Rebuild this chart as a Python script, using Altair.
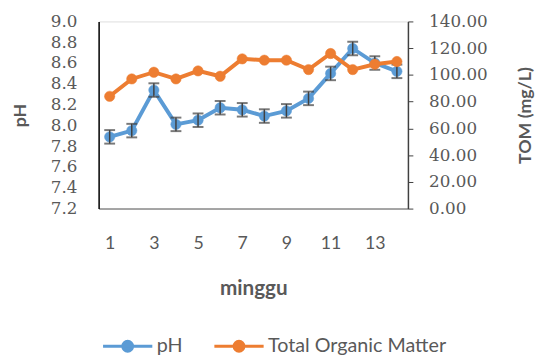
import altair as alt
import pandas as pd

weeks = list(range(1, 15))
ph = [7.89, 7.95, 8.34, 8.01, 8.05, 8.17, 8.15, 8.09, 8.14, 8.26, 8.50, 8.74, 8.60, 8.52]
ph_err = [0.065] * 14
tom = [84, 97, 102, 97, 103, 99, 112, 111, 111, 104, 116, 104, 108, 110]
x_ticks = [1, 3, 5, 7, 9, 11, 13]
ph_ticks = [7.2, 7.4, 7.6, 7.8, 8.0, 8.2, 8.4, 8.6, 8.8, 9.0]
tom_ticks = [0, 20, 40, 60, 80, 100, 120, 140]
series = ["pH", "Total Organic Matter"]
colors = ["#5B9BD5", "#ED7D31"]

df_ph = pd.DataFrame({
    "minggu": weeks, "value": ph,
    "lo": [v - e for v, e in zip(ph, ph_err)],
    "hi": [v + e for v, e in zip(ph, ph_err)],
    "series": "pH",
})
df_tom = pd.DataFrame({"minggu": weeks, "value": tom, "series": "Total Organic Matter"})

label_color = "#595959"
sans = "Lato"
serif = "DejaVu Serif"

x_enc = alt.X("minggu:Q", scale=alt.Scale(domain=[0.5, 14.5], nice=False, zero=False),
              axis=alt.Axis(values=x_ticks, ticks=False, tickSize=0, grid=False,
                            domainColor="#8c8c8c", domainWidth=1.5,
                            labelFont=sans, labelFontSize=18, labelColor=label_color,
                            labelPadding=27,
                            title="minggu", titleFont=sans, titleFontSize=21,
                            titleColor=label_color, titleFontWeight="bold",
                            titlePadding=25))

legend_symbol = "M-1,0H1M0.2,0A0.2,0.2,0,1,1,-0.2,0A0.2,0.2,0,1,1,0.2,0Z"
legend = alt.Legend(orient="none", direction="horizontal", title=None,
                    legendX=3, legendY=303,
                    symbolType=legend_symbol, symbolSize=2500, symbolStrokeWidth=3,
                    labelFont=sans, labelFontSize=20, labelColor=label_color,
                    labelOffset=3, columnPadding=25, labelLimit=400)
color_enc = alt.Color("series:N", scale=alt.Scale(domain=series, range=colors), legend=legend)
stroke_enc = alt.Stroke("series:N", scale=alt.Scale(domain=series, range=colors), legend=legend)

y_ph_scale = alt.Scale(domain=[7.2, 9.0], nice=False, zero=False)
y_ph_axis = alt.Axis(orient="left", values=ph_ticks, format=".1f", labelOverlap=False,
                     domain=True, domainOpacity=1, ticks=True, tickSize=0, tickOpacity=0,
                     grid=False, domainColor="#000000", domainWidth=1.5, zindex=1,
                     labelFont=serif, labelFontSize=17, labelColor=label_color, labelPadding=22,
                     title="pH", titleFont=sans, titleFontSize=18, titleFontWeight="bold",
                     titleColor=label_color, titleAngle=270, titlePadding=21)
y_ph = alt.Y("value:Q", scale=y_ph_scale, axis=y_ph_axis)
y_lo = alt.Y("lo:Q", scale=y_ph_scale, axis=y_ph_axis)
y_hi = alt.Y("hi:Q", scale=y_ph_scale, axis=y_ph_axis)

base_ph = alt.Chart(df_ph)
ph_line = base_ph.mark_line(strokeWidth=4, color=colors[0]).encode(x=x_enc, y=y_ph)
ph_pts = base_ph.mark_point(filled=True, size=110, opacity=1, strokeWidth=0.5).encode(
    x=x_enc, y=y_ph, color=color_enc, stroke=stroke_enc)
err_rule = base_ph.mark_rule(color="#404040", strokeWidth=1.5).encode(
    x=x_enc, y=y_lo, y2="hi:Q")
cap_lo = base_ph.mark_tick(color="#404040", orient="horizontal", size=11, thickness=2).encode(
    x=x_enc, y=y_lo)
cap_hi = base_ph.mark_tick(color="#404040", orient="horizontal", size=11, thickness=2).encode(
    x=x_enc, y=y_hi)
ph_layer = alt.layer(ph_line, ph_pts, err_rule, cap_lo, cap_hi)

y_tom = alt.Y("value:Q", scale=alt.Scale(domain=[0, 140], nice=False),
              axis=alt.Axis(orient="right", values=tom_ticks, format=".2f", labelOverlap=False,
                            ticks=True, tickSize=5, tickColor="#404040", grid=False,
                            domainColor="#404040", domainWidth=1.5,
                            labelFont=serif, labelFontSize=17, labelColor=label_color,
                            labelPadding=16,
                            title="TOM (mg/L)", titleFont=sans, titleFontSize=18,
                            titleFontWeight="bold", titleColor=label_color,
                            titleAngle=270, titlePadding=48))
base_tom = alt.Chart(df_tom)
tom_line = base_tom.mark_line(strokeWidth=4, color=colors[1]).encode(x=x_enc, y=y_tom)
tom_pts = base_tom.mark_point(filled=True, size=110, opacity=1, strokeWidth=0.5).encode(
    x=x_enc, y=y_tom, color=color_enc, stroke=stroke_enc)
tom_layer = alt.layer(tom_line, tom_pts)

chart = alt.layer(ph_layer, tom_layer).resolve_scale(y="independent").properties(
    width=314, height=190,
    autosize=alt.AutoSizeParams(type="none"),
    padding={"left": 92, "top": 11, "right": 130, "bottom": 147},
).configure_view(stroke=None).configure(background="white").configure_axisLeft(
    domain=True, domainColor="#000000", domainWidth=1.5)

chart.save("out.html", embed_options={"renderer": "svg", "actions": False})
